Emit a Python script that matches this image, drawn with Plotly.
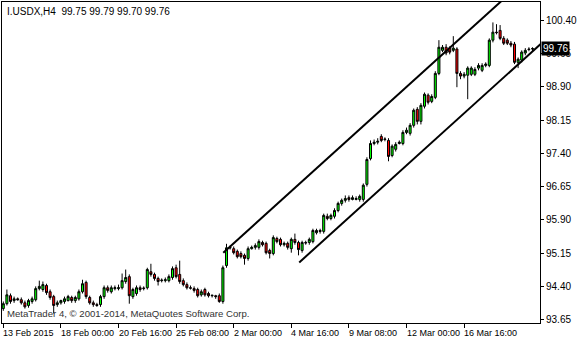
import plotly.graph_objects as go

# H4 candles of I.USDX (bar index 0 = 13 Feb 2015 08:00)
opens = [
 93.90,94.01,94.19,94.08,94.12,94.10,94.03,93.97,94.06,94.10,94.35,94.33,94.42,94.28,94.17,93.99,94.03,94.06,94.08,94.15,
 94.08,94.12,94.28,94.49,94.15,94.03,93.99,93.99,94.17,94.37,94.28,
 94.35,94.35,94.37,94.51,94.62,94.17,94.24,94.37,94.35,94.37,94.73,94.67,94.58,94.53,94.53,94.53,94.60,94.82,94.67,94.53,
 94.44,94.37,94.35,94.33,94.21,94.33,94.24,94.19,94.19,94.19,94.06,94.87,
 95.28,95.25,95.19,95.14,95.10,95.03,95.25,95.28,95.28,95.39,95.37,95.21,95.14,95.48,95.46,95.34,95.37,95.25,95.46,95.39,
 95.21,95.39,95.39,95.41,95.61,95.66,95.64,95.98,95.93,95.98,96.11,
 96.27,96.34,96.40,96.36,96.36,96.36,96.36,96.70,97.28,97.62,97.65,97.78,97.71,97.69,97.35,97.49,97.62,97.62,97.87,97.85,
 98.03,98.39,98.12,98.46,98.71,98.57,98.66,99.20,
 99.72,99.79,99.77,99.72,99.75,99.20,99.14,99.16,99.18,99.18,99.32,99.27,99.38,99.38,99.95,100.13,100.17,99.99,99.95,99.88,
 99.86,99.45,99.50,99.66,99.75,99.75]
highs = [
 94.06,94.33,94.24,94.17,94.15,94.15,94.08,94.12,94.17,94.40,94.53,94.51,94.46,94.33,94.21,94.08,94.10,94.17,94.21,94.19,
 94.19,94.33,94.55,94.53,94.19,94.08,94.03,94.21,94.42,94.42,94.42,
 94.42,94.44,94.69,94.78,94.67,94.37,94.42,94.42,94.40,94.82,94.91,94.71,94.62,94.58,94.60,94.67,94.85,94.89,94.98,94.58,
 94.49,94.42,94.40,94.37,94.33,94.37,94.28,94.21,94.21,94.24,94.87,95.36,
 95.32,95.30,95.23,95.19,95.14,95.30,95.32,95.37,95.46,95.43,95.41,95.25,95.55,95.52,95.50,95.41,95.41,95.50,95.59,95.43,
 95.43,95.43,95.50,95.70,95.70,95.70,96.04,96.04,96.04,96.16,96.31,
 96.38,96.45,96.45,96.45,96.43,96.47,96.72,97.31,97.69,97.71,97.74,97.83,97.76,97.74,97.60,97.65,97.69,97.92,97.98,98.08,
 98.41,98.44,98.53,98.77,98.75,98.73,99.25,99.95,
 99.84,99.86,99.81,100.04,99.79,99.25,99.23,99.36,99.36,99.34,99.43,99.43,99.45,99.99,100.35,100.31,100.29,100.04,99.99,99.93,
 99.91,99.56,99.72,99.77,99.79,99.79]
lows = [
 93.85,93.97,94.01,94.03,94.08,93.99,93.90,93.92,94.01,94.06,94.31,94.28,94.21,94.10,93.79,93.94,93.99,94.01,94.06,94.03,
 94.03,94.08,94.24,94.12,93.99,93.94,93.94,93.94,94.12,94.26,94.24,
 94.31,94.31,94.33,94.46,94.01,94.12,94.19,94.28,94.31,94.33,94.62,94.53,94.42,94.49,94.49,94.49,94.55,94.58,94.46,94.40,
 94.33,94.33,94.26,94.15,94.17,94.17,94.15,94.15,94.12,94.03,94.01,94.82,
 95.23,95.12,95.03,95.03,94.89,94.98,95.23,95.23,95.23,95.30,95.12,95.03,95.10,95.37,95.30,95.30,95.23,95.16,95.34,95.10,
 95.16,95.34,95.34,95.37,95.57,95.59,95.59,95.89,95.89,95.93,96.07,
 96.22,96.29,96.31,96.34,96.34,96.31,96.31,96.65,97.24,97.58,97.60,97.65,97.67,97.22,97.31,97.44,97.60,97.58,97.83,97.80,
 97.98,98.05,98.05,98.41,98.50,98.53,98.62,99.16,
 99.68,99.61,99.63,99.68,98.89,99.07,99.09,98.62,99.14,99.14,99.27,99.23,99.34,99.34,99.90,100.08,99.95,99.84,99.84,99.79,
 99.41,99.32,99.45,99.61,99.70,99.70]
closes = [
 94.01,94.21,94.06,94.12,94.10,94.03,93.94,94.08,94.12,94.35,94.40,94.44,94.26,94.15,93.97,94.03,94.08,94.12,94.17,94.08,
 94.15,94.28,94.46,94.17,94.03,93.99,93.97,94.17,94.37,94.31,94.37,
 94.37,94.37,94.53,94.60,94.19,94.33,94.37,94.33,94.36,94.78,94.67,94.58,94.51,94.54,94.55,94.62,94.80,94.62,94.51,94.44,
 94.37,94.36,94.31,94.19,94.28,94.21,94.19,94.20,94.17,94.06,94.82,95.27,
 95.27,95.16,95.07,95.07,95.03,95.25,95.28,95.32,95.41,95.34,95.16,95.14,95.50,95.41,95.34,95.37,95.28,95.46,95.39,95.23,
 95.39,95.38,95.46,95.66,95.66,95.64,96.00,95.93,96.00,96.11,96.27,
 96.34,96.38,96.36,96.40,96.38,96.43,96.68,97.26,97.62,97.65,97.67,97.69,97.72,97.33,97.56,97.60,97.65,97.87,97.92,98.03,
 98.37,98.12,98.48,98.73,98.55,98.68,99.20,99.79,
 99.79,99.66,99.68,99.77,99.20,99.14,99.18,99.32,99.32,99.29,99.38,99.38,99.41,99.95,100.13,100.12,99.99,99.88,99.88,99.84,
 99.45,99.52,99.68,99.72,99.74,99.76]

tick_bars = [0, 16, 32, 48, 64, 80, 96, 112, 128]
tick_labels = ["13 Feb 2015", "18 Feb 00:00", "20 Feb 16:00", "25 Feb 08:00",
               "2 Mar 00:00", "4 Mar 16:00", "9 Mar 08:00", "12 Mar 00:00", "16 Mar 16:00"]
price_ticks = [93.65, 94.40, 95.15, 95.90, 96.65, 97.40, 98.15, 98.90, 99.65, 100.40]

# channel trendlines: start bar, start price, slope per bar
upper_start = (61.1, 95.16)
lower_start = (82.2, 94.94)
channel_slope = 0.0734
ray_end_bar = 165

bars = list(range(len(closes)))
FONT = "Liberation Sans, Arial, sans-serif"

fig = go.Figure()
fig.add_trace(go.Candlestick(
    x=bars, open=opens, high=highs, low=lows, close=closes,
    increasing=dict(fillcolor="#00ff00", line=dict(color="black", width=1)),
    decreasing=dict(fillcolor="#ff0000", line=dict(color="black", width=1)),
    whiskerwidth=0, showlegend=False, hoverinfo="skip"))

for sb, sp in (upper_start, lower_start):
    fig.add_trace(go.Scatter(
        x=[sb, ray_end_bar], y=[sp, sp + channel_slope * (ray_end_bar - sb)],
        mode="lines", line=dict(color="black", width=2), showlegend=False, hoverinfo="skip"))

annotations = []
for b, t in zip(tick_bars, tick_labels):
    annotations.append(dict(x=b, xref="x", y=0, yref="paper", yanchor="top", xanchor="left",
                            xshift=-2, yshift=-3, text=t, showarrow=False,
                            font=dict(family=FONT, size=9, color="black")))
annotations.append(dict(x=0, xref="paper", y=1, yref="paper", xanchor="left", yanchor="top",
                        xshift=3, yshift=-2,
                        text="I.USDX,H4\u00a0\u00a0" + " ".join(f"{v:.2f}" for v in (opens[-1], highs[-1], lows[-1], closes[-1])),
                        showarrow=False, font=dict(family=FONT, size=10, color="black")))
annotations.append(dict(x=0, xref="paper", y=0, yref="paper", xanchor="left", yanchor="bottom",
                        xshift=3, yshift=2,
                        text="MetaTrader 4, © 2001-2014, MetaQuotes Software Corp.",
                        showarrow=False, font=dict(family=FONT, size=9.6, color="#333333")))
annotations.append(dict(x=1, xref="paper", y=closes[-1], yref="y", xanchor="left", yanchor="middle",
                        xshift=1, text=f"{closes[-1]:.2f}", showarrow=False, bgcolor="black",
                        borderpad=1, font=dict(family=FONT, size=10, color="white")))

fig.update_layout(
    width=580, height=340, margin=dict(l=2, r=40, t=2, b=17),
    paper_bgcolor="white", plot_bgcolor="white", boxgap=0.2,
    annotations=annotations,
    xaxis=dict(range=[-0.36, 149.08], showgrid=False, zeroline=False,
               rangeslider=dict(visible=False), showline=True, mirror=True,
               linecolor="black", linewidth=1, tickvals=tick_bars, showticklabels=False,
               ticks="outside", ticklen=4, tickcolor="black"),
    yaxis=dict(range=[93.575, 100.81], side="right", showgrid=False, zeroline=False,
               showline=True, mirror=True, linecolor="black", linewidth=1,
               tickvals=price_ticks, ticktext=[f"{v:.2f}" for v in price_ticks],
               ticks="outside", ticklen=3, tickcolor="black",
               tickfont=dict(family=FONT, size=10, color="black")),
)

fig.write_html("out.html")
